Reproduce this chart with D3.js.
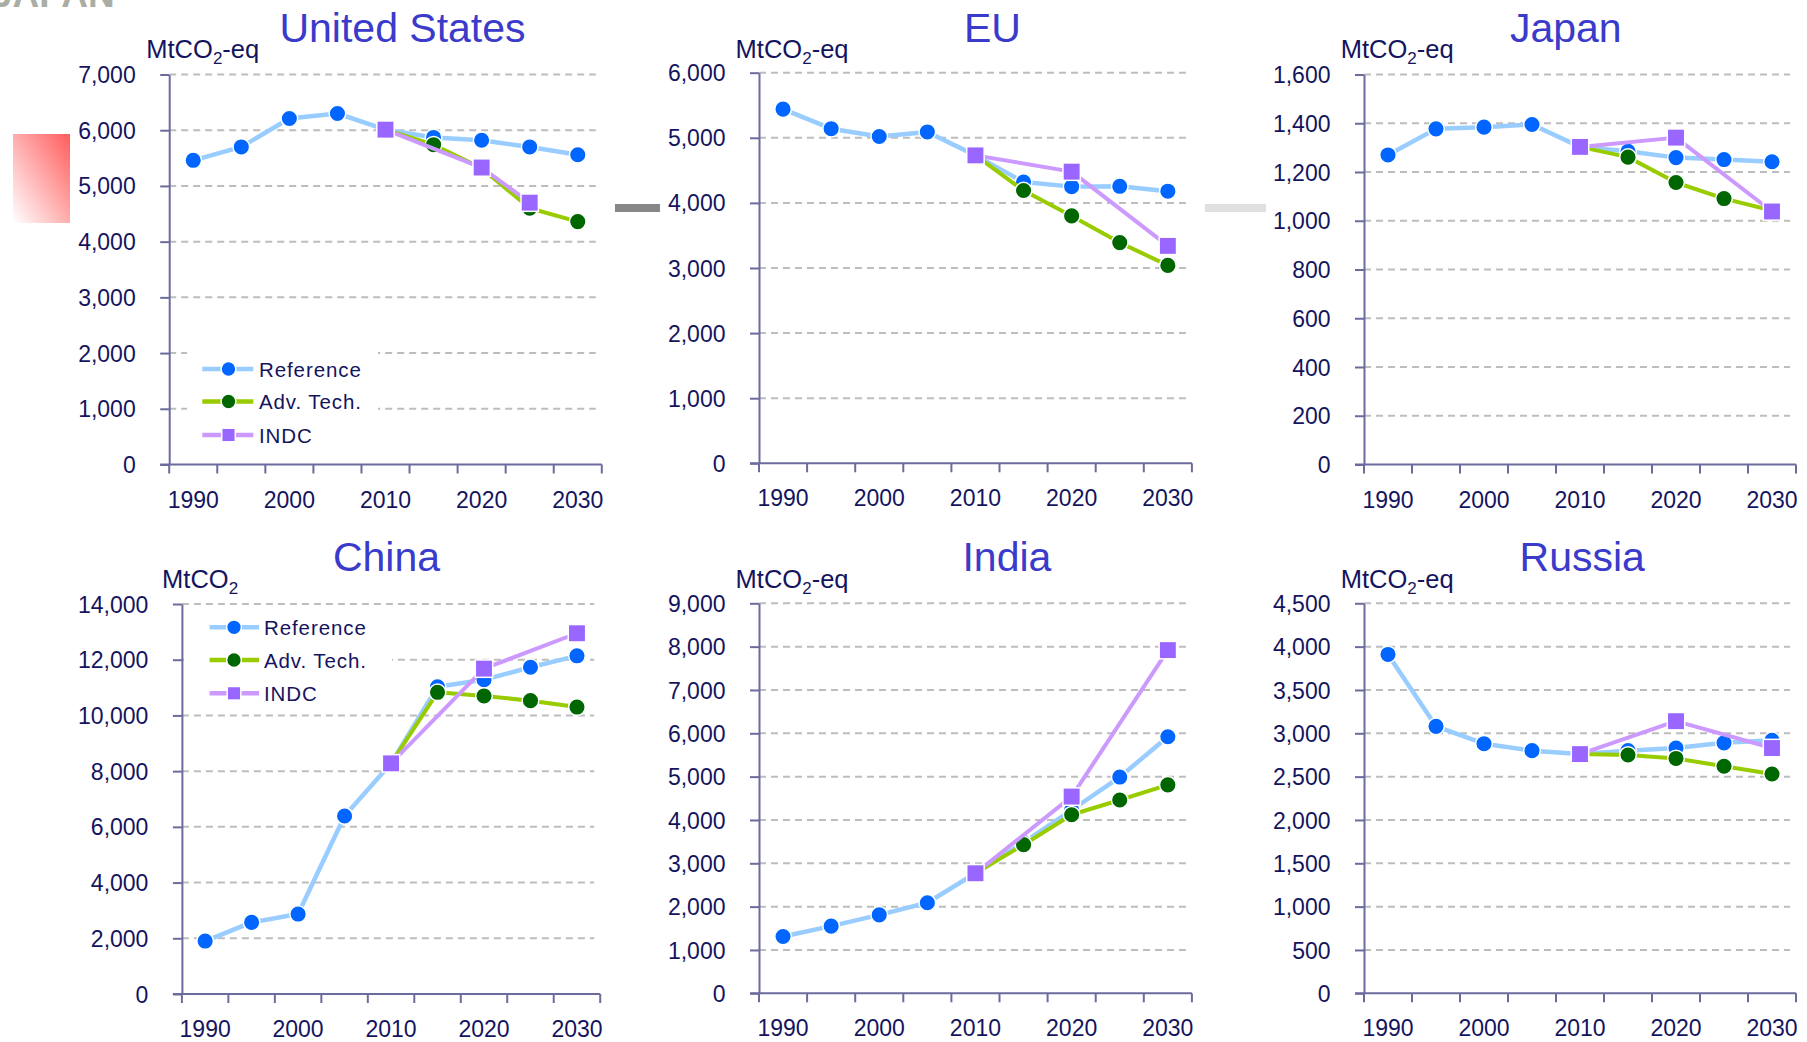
<!DOCTYPE html>
<html><head><meta charset="utf-8">
<script src="https://cdn.jsdelivr.net/npm/d3@7"></script>
<style>
body{margin:0;background:#fff;}
svg{display:block;font-family:"Liberation Sans",Arial,sans-serif;}
</style></head><body>
<svg id="chart" width="1807" height="1042"></svg>
<script>
// ---------- data ----------
const years = [1990,1995,2000,2005,2010,2015,2020,2025,2030];
const xTickLabels = [1990,2000,2010,2020,2030];
const seriesNames = ["Reference","Adv. Tech.","INDC"];

const usRef  = [5460,5700,6210,6300,6010,5870,5820,5700,5560];
const usAdv  = [null,null,null,null,6010,5740,5320,4600,4360];
const usIndc = [null,null,null,null,6010,null,5330,4700,null];
const usTicks = [0,1000,2000,3000,4000,5000,6000,7000];

const euRef  = [5440,5140,5020,5090,4730,4320,4250,4255,4180];
const euAdv  = [null,null,null,null,4730,4190,3800,3390,3040];
const euIndc = [null,null,null,null,4730,null,4480,null,3340];
const euTicks = [0,1000,2000,3000,4000,5000,6000];

const japanRef  = [1270,1377,1384,1395,1303,1285,1259,1251,1242];
const japanAdv  = [null,null,null,null,1303,1261,1157,1091,1042];
const japanIndc = [null,null,null,null,1303,null,1341,null,1038];
const japanTicks = [0,200,400,600,800,1000,1200,1400,1600];

const chinaRef  = [1900,2570,2870,6390,8280,11030,11280,11730,12140];
const chinaAdv  = [null,null,null,null,8280,10830,10700,10530,10300];
const chinaIndc = [null,null,null,null,8280,null,11680,null,12950];
const chinaTicks = [0,2000,4000,6000,8000,10000,12000,14000];

const indiaRef  = [1310,1550,1810,2090,2770,3480,4230,4990,5920];
const indiaAdv  = [null,null,null,null,2770,3430,4120,4460,4810];
const indiaIndc = [null,null,null,null,2770,null,4540,null,7920];
const indiaTicks = [0,1000,2000,3000,4000,5000,6000,7000,8000,9000];

const russiaRef  = [3910,3080,2880,2800,2760,2800,2830,2890,2920];
const russiaAdv  = [null,null,null,null,2760,2750,2710,2620,2530];
const russiaIndc = [null,null,null,null,2760,null,3140,null,2830];
const russiaTicks = [0,500,1000,1500,2000,2500,3000,3500,4000,4500];

const panelTitles = ["United States","EU","Japan","China","India","Russia"];
const panelUnits  = ["-eq","-eq","-eq","","-eq","-eq"];

// ---------- layout / style ----------
const svg = d3.select("#chart");
const COL = {
  refLine:"#99ccff", refMark:"#0066ff",
  advLine:"#99cc00", advMark:"#006600",
  indcLine:"#cc99ff", indcMark:"#9966ff",
  axis:"#6b6b9e", text:"#14145e", title:"#3a3acb", grid:"#bdbdbd"
};
const layout = [
  {l:169.2,r:601.8,t:74.5,b:464.5,tx:402.5,ty:41.7,ux:146.3,uy:57.5,legend:{x:187,y:348,w:191,h:104,lx0:202.3,lx1:253.3,mx:228.5,tx:259,rows:[369,401.5,435]}},
  {l:759,r:1191.9,t:72.7,b:463.3,tx:992.4,ty:41.7,ux:735.6,uy:57.5},
  {l:1364,r:1796,t:74.5,b:464.5,tx:1565.8,ty:41.7,ux:1340.7,uy:57.5},
  {l:181.9,r:600.2,t:604,b:994,tx:386.5,ty:570.7,ux:162.1,uy:587.5,legend:{x:184,y:609,w:208,h:102,lx0:209.6,lx1:259,mx:234,tx:264,rows:[627.3,660,693.3]}},
  {l:759,r:1191.9,t:603.3,b:993.3,tx:1006.9,ty:570.7,ux:735.6,uy:587.5},
  {l:1364,r:1796,t:603.3,b:993.3,tx:1582.2,ty:570.7,ux:1340.7,uy:587.5}
];
const panelData = [
  [usRef,usAdv,usIndc,usTicks],
  [euRef,euAdv,euIndc,euTicks],
  [japanRef,japanAdv,japanIndc,japanTicks],
  [chinaRef,chinaAdv,chinaIndc,chinaTicks],
  [indiaRef,indiaAdv,indiaIndc,indiaTicks],
  [russiaRef,russiaAdv,russiaIndc,russiaTicks]
];

// ---------- decorations ----------
const defs = svg.append("defs");
const grad = defs.append("linearGradient").attr("id","redfade")
  .attr("x1","1").attr("y1","0").attr("x2","0").attr("y2","1");
grad.append("stop").attr("offset","0").attr("stop-color","#ff5c5c");
grad.append("stop").attr("offset","1").attr("stop-color","#ffffff");
svg.append("rect").attr("x",13).attr("y",134).attr("width",57).attr("height",89).attr("fill","url(#redfade)");
svg.append("text").attr("x",-8).attr("y",6.5).attr("font-size",37).attr("font-weight","bold")
  .attr("fill","#a9ada3").text("JAPAN");
svg.append("rect").attr("x",615).attr("y",204).attr("width",45).attr("height",8).attr("fill","#878787");
svg.append("rect").attr("x",1205).attr("y",204).attr("width",61).attr("height",8).attr("fill","#e0e0e0");

const fmt = d3.format(",");

function drawMarker(g, type, cx, cy, fill, size){
  if(type==="circle"){
    g.append("circle").attr("cx",cx).attr("cy",cy).attr("r",size)
      .attr("fill",fill).attr("stroke","#fff").attr("stroke-width",1.5);
  } else {
    g.append("rect").attr("x",cx-size).attr("y",cy-size).attr("width",2*size).attr("height",2*size)
      .attr("fill",fill).attr("stroke","#fff").attr("stroke-width",1.5);
  }
}

layout.forEach((L,pi)=>{
  const [ref,adv,indc,ticks] = panelData[pi];
  const g = svg.append("g");
  const x = d3.scaleBand().domain(years).range([L.l,L.r]);
  const bw = x.bandwidth();
  const cx = yr => x(yr)+bw/2;
  const y = d3.scaleLinear().domain([0,d3.max(ticks)]).range([L.b,L.t]);

  // gridlines
  g.selectAll(".grid").data(ticks.filter(t=>t>0)).enter().append("line")
    .attr("x1",L.l).attr("x2",L.r-6).attr("y1",d=>y(d)).attr("y2",d=>y(d))
    .attr("stroke",COL.grid).attr("stroke-width",2).attr("stroke-dasharray","7,5");

  // y axis
  const ya = g.append("g").attr("transform",`translate(${L.l},0)`)
    .call(d3.axisLeft(y).tickValues(ticks).tickSize(9).tickSizeOuter(0).tickPadding(24.5).tickFormat(fmt));
  ya.select(".domain").attr("stroke",COL.axis).attr("stroke-width",2);
  ya.selectAll(".tick line").attr("stroke",COL.axis).attr("stroke-width",2);
  ya.selectAll(".tick text").attr("fill",COL.text).attr("font-size",23)
    .attr("font-family","'Liberation Sans',Arial,sans-serif").attr("dy","0.35em");

  // x axis
  g.append("line").attr("x1",L.l-9).attr("x2",L.r).attr("y1",L.b).attr("y2",L.b)
    .attr("stroke",COL.axis).attr("stroke-width",2);
  const bounds = years.map(yr=>x(yr)).concat([L.r]);
  g.selectAll(".xt").data(bounds).enter().append("line")
    .attr("x1",d=>d).attr("x2",d=>d).attr("y1",L.b).attr("y2",L.b+9)
    .attr("stroke",COL.axis).attr("stroke-width",2);
  g.selectAll(".xl").data(xTickLabels).enter().append("text")
    .attr("x",d=>cx(d)).attr("y",L.b+43).attr("text-anchor","middle")
    .attr("font-size",23).attr("fill",COL.text).text(d=>d);

  // title
  g.append("text").attr("x",L.tx).attr("y",L.ty).attr("text-anchor","middle")
    .attr("font-size",41).attr("fill",COL.title).text(panelTitles[pi]);
  // unit
  const u = g.append("text").attr("x",L.ux).attr("y",L.uy).attr("font-size",25.5).attr("fill",COL.text);
  u.append("tspan").text("MtCO");
  u.append("tspan").attr("dy",6).attr("font-size",17).text("2");
  if(panelUnits[pi]) u.append("tspan").attr("dy",-6).text(panelUnits[pi]);

  // series
  const series = [
    {vals:ref, line:COL.refLine, mark:COL.refMark, type:"circle", w:4.5},
    {vals:adv, line:COL.advLine, mark:COL.advMark, type:"circle", w:4},
    {vals:indc, line:COL.indcLine, mark:COL.indcMark, type:"square", w:4}
  ];
  series.forEach(s=>{
    const pts = years.map((yr,i)=>({yr,v:s.vals[i]})).filter(d=>d.v!==null);
    const line = d3.line().x(d=>cx(d.yr)).y(d=>y(d.v));
    g.append("path").datum(pts).attr("d",line).attr("fill","none")
      .attr("stroke",s.line).attr("stroke-width",s.w).attr("stroke-linejoin","round");
    pts.forEach(d=>drawMarker(g,s.type,cx(d.yr),y(d.v),s.mark,s.type==="circle"?8.3:8.7));
  });

  // legend
  if(L.legend){
    const lg = L.legend;
    g.append("rect").attr("x",lg.x).attr("y",lg.y).attr("width",lg.w).attr("height",lg.h).attr("fill","#fff");
    series.forEach((s,i)=>{
      const ry = lg.rows[i];
      g.append("line").attr("x1",lg.lx0).attr("x2",lg.lx1).attr("y1",ry).attr("y2",ry)
        .attr("stroke",s.line).attr("stroke-width",4.5);
      drawMarker(g,s.type,lg.mx,ry,s.mark,s.type==="circle"?7.4:6.8);
      g.append("text").attr("x",lg.tx).attr("y",ry+7.5).attr("font-size",20.5)
        .attr("letter-spacing",0.9).attr("fill",COL.text).text(seriesNames[i]);
    });
  }
});
</script>
</body></html>
